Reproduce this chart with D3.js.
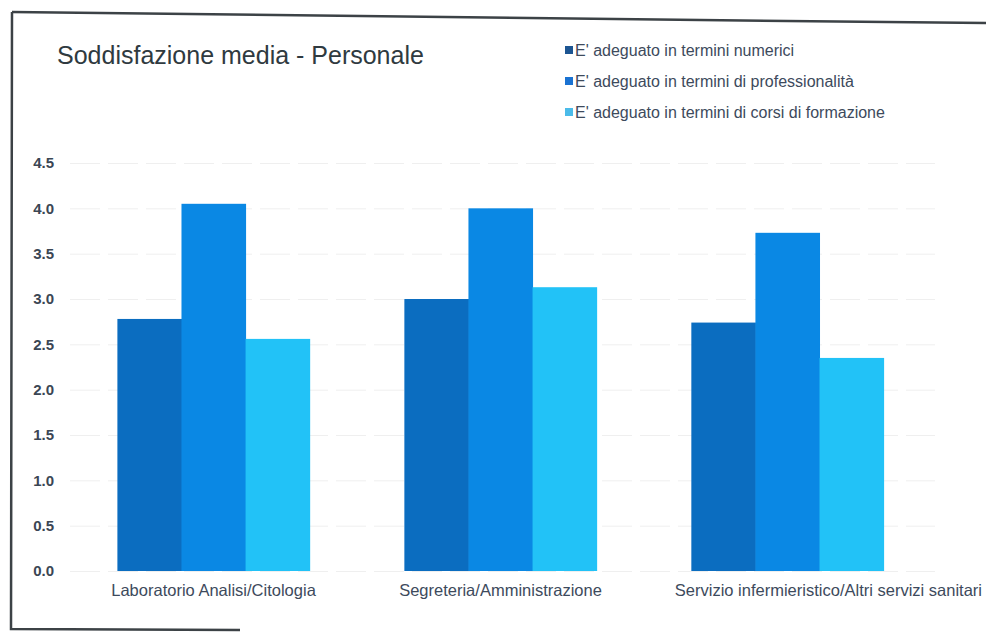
<!DOCTYPE html>
<html>
<head>
<meta charset="utf-8">
<script src="https://cdn.jsdelivr.net/npm/d3@7"></script>
<style>
  body { margin: 0; background: #fff; }
  svg { display: block; font-family: "Liberation Sans", Arial, sans-serif; }
</style>
</head>
<body>
<div id="chart"></div>
<script>
const categories = [
  'Laboratorio Analisi/Citologia',
  'Segreteria/Amministrazione',
  'Servizio infermieristico/Altri servizi sanitari'
];
const seriesNames = [
  "E' adeguato in termini numerici",
  "E' adeguato in termini di professionalità",
  "E' adeguato in termini di corsi di formazione"
];
const numerici = [2.78, 3.0, 2.74];
const professionalita = [4.05, 4.0, 3.73];
const formazione = [2.56, 3.13, 2.35];
const yTicks = [0, 0.5, 1, 1.5, 2, 2.5, 3, 3.5, 4, 4.5];

const seriesValues = [numerici, professionalita, formazione];
const colors = ['#0b6dc0', '#0a88e4', '#22c2f7'];
const legendColors = ['#1c5592', '#1a72d2', '#4bbbe9'];

const width = 986;
const height = 632;

const svg = d3.select('#chart')
  .append('svg')
  .attr('width', width)
  .attr('height', height);

// scanned frame
const frame = svg.append('g').attr('stroke', '#3c4246').attr('stroke-width', 2.5).attr('fill', 'none');
frame.append('path').attr('d', 'M12,12 L700,20 L986,23');
frame.append('path').attr('d', 'M12,12 L11,629 L240,630');

const x0 = d3.scaleBand()
  .domain(categories)
  .range([60, 941])
  .paddingInner(0.33)
  .paddingOuter(0.2);

const x1 = d3.scaleBand()
  .domain(d3.range(seriesNames.length))
  .range([0, x0.bandwidth()]);

const y = d3.scaleLinear().domain([0, 4.5]).range([571, 163]);

// gridlines
svg.append('g')
  .attr('transform', 'translate(70,0)')
  .call(d3.axisLeft(y).tickValues(yTicks).tickFormat('').tickSize(-865))
  .call(g => g.select('.domain').remove())
  .call(g => g.selectAll('line').attr('stroke', '#efefef').attr('stroke-dasharray', '30,8'));

// y axis labels
svg.append('g')
  .attr('transform', 'translate(54,0)')
  .call(d3.axisLeft(y).tickValues(yTicks).tickFormat(d3.format('.1f')).tickSize(0))
  .call(g => g.select('.domain').remove())
  .call(g => g.selectAll('text')
    .attr('x', 0)
    .attr('fill', '#3b4654')
    .style('font-size', '15px')
    .style('font-weight', 'bold'));

// bars
const groups = svg.append('g')
  .selectAll('g')
  .data(categories)
  .join('g')
  .attr('transform', d => `translate(${x0(d)},0)`);

groups.selectAll('rect')
  .data((d, i) => seriesValues.map((vals, s) => ({ s, v: vals[i] })))
  .join('rect')
  .attr('x', d => x1(d.s))
  .attr('y', d => y(d.v))
  .attr('width', x1.bandwidth() + 0.5)
  .attr('height', d => y(0) - y(d.v))
  .attr('fill', d => colors[d.s]);

// category labels; a label wider than its step is pushed to the right edge
svg.append('g')
  .attr('transform', `translate(0,${y(0)})`)
  .call(d3.axisBottom(x0).tickSize(0))
  .call(g => g.select('.domain').remove())
  .call(g => g.selectAll('text')
    .attr('y', 25)
    .attr('dy', 0)
    .attr('fill', '#3d4a5c')
    .style('font-size', '16.5px'))
  .call(g => g.selectAll('.tick').each(function(d) {
    const t = d3.select(this).select('text');
    const w = t.node().getComputedTextLength();
    if (w > x0.step()) {
      const cx = x0(d) + x0.bandwidth() / 2;
      t.attr('x', 982 - w / 2 - cx);
    }
  }));

// title
svg.append('text')
  .attr('x', 57)
  .attr('y', 64)
  .attr('fill', '#2f3a40')
  .style('font-size', '25px')
  .text('Soddisfazione media - Personale');

// legend
const legend = svg.append('g')
  .selectAll('g')
  .data(seriesNames)
  .join('g')
  .attr('transform', (d, i) => `translate(565,${50 + i * 31})`);

legend.append('rect')
  .attr('x', 0).attr('y', -4)
  .attr('width', 8).attr('height', 8)
  .attr('fill', (d, i) => legendColors[i]);

legend.append('text')
  .attr('x', 10)
  .attr('y', 6)
  .attr('fill', '#3d4a5c')
  .style('font-size', '16px')
  .text(d => d);
</script>
</body>
</html>
